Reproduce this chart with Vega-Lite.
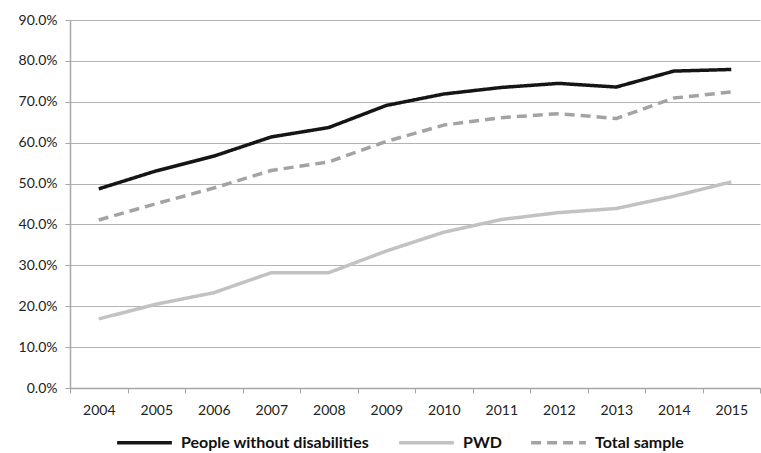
{
  "$schema": "https://vega.github.io/schema/vega-lite/v6.json",
  "width": 690,
  "height": 368,
  "autosize": "none",
  "padding": {"left": 70, "top": 20, "right": 1, "bottom": 65},
  "background": "white",
  "config": {
    "font": "Lato",
    "view": {"stroke": null}
  },
  "data": {
    "values": [
      {"year": "2004", "group": "People without disabilities", "value": 0.487},
      {"year": "2005", "group": "People without disabilities", "value": 0.531},
      {"year": "2006", "group": "People without disabilities", "value": 0.567},
      {"year": "2007", "group": "People without disabilities", "value": 0.614},
      {"year": "2008", "group": "People without disabilities", "value": 0.637},
      {"year": "2009", "group": "People without disabilities", "value": 0.691},
      {"year": "2010", "group": "People without disabilities", "value": 0.719},
      {"year": "2011", "group": "People without disabilities", "value": 0.735},
      {"year": "2012", "group": "People without disabilities", "value": 0.745},
      {"year": "2013", "group": "People without disabilities", "value": 0.736},
      {"year": "2014", "group": "People without disabilities", "value": 0.775},
      {"year": "2015", "group": "People without disabilities", "value": 0.779},
      {"year": "2004", "group": "PWD", "value": 0.169},
      {"year": "2005", "group": "PWD", "value": 0.205},
      {"year": "2006", "group": "PWD", "value": 0.233},
      {"year": "2007", "group": "PWD", "value": 0.282},
      {"year": "2008", "group": "PWD", "value": 0.282},
      {"year": "2009", "group": "PWD", "value": 0.335},
      {"year": "2010", "group": "PWD", "value": 0.381},
      {"year": "2011", "group": "PWD", "value": 0.412},
      {"year": "2012", "group": "PWD", "value": 0.429},
      {"year": "2013", "group": "PWD", "value": 0.439},
      {"year": "2014", "group": "PWD", "value": 0.469},
      {"year": "2015", "group": "PWD", "value": 0.504},
      {"year": "2004", "group": "Total sample", "value": 0.411},
      {"year": "2005", "group": "Total sample", "value": 0.451},
      {"year": "2006", "group": "Total sample", "value": 0.489},
      {"year": "2007", "group": "Total sample", "value": 0.532},
      {"year": "2008", "group": "Total sample", "value": 0.553},
      {"year": "2009", "group": "Total sample", "value": 0.603},
      {"year": "2010", "group": "Total sample", "value": 0.643},
      {"year": "2011", "group": "Total sample", "value": 0.661},
      {"year": "2012", "group": "Total sample", "value": 0.671},
      {"year": "2013", "group": "Total sample", "value": 0.659},
      {"year": "2014", "group": "Total sample", "value": 0.709},
      {"year": "2015", "group": "Total sample", "value": 0.724}
    ]
  },
  "mark": {"type": "line", "strokeWidth": 3.5, "strokeCap": "butt", "strokeJoin": "round"},
  "encoding": {
    "x": {
      "field": "year",
      "type": "ordinal",
      "scale": {"paddingInner": 0, "paddingOuter": 0},
      "axis": {
        "title": null,
        "labelAngle": 0,
        "labelFontSize": 14,
        "labelColor": "#222222",
        "labelPadding": 10,
        "domainColor": "#a6a6a6",
        "domainWidth": 1.5,
        "tickColor": "#a6a6a6",
        "tickBand": "extent",
        "tickSize": 5,
        "grid": false
      }
    },
    "y": {
      "field": "value",
      "type": "quantitative",
      "scale": {"domain": [0, 0.9], "nice": false},
      "axis": {
        "title": null,
        "format": ".1%",
        "values": [0, 0.1, 0.2, 0.3, 0.4, 0.5, 0.6, 0.7, 0.8, 0.9],
        "labelFontSize": 14,
        "labelColor": "#222222",
        "labelPadding": 8,
        "domainColor": "#a6a6a6",
        "domainWidth": 1.5,
        "tickColor": "#a6a6a6",
        "tickSize": 5,
        "gridColor": "#b4b4b4",
        "gridWidth": 1.2
      }
    },
    "color": {
      "field": "group",
      "type": "nominal",
      "scale": {
        "domain": ["People without disabilities", "PWD", "Total sample"],
        "range": ["#151515", "#c2c2c2", "#a3a3a3"]
      },
      "legend": {
        "title": null,
        "orient": "none",
        "direction": "horizontal",
        "legendX": 45,
        "legendY": 393,
        "symbolType": "stroke",
        "symbolSize": 3000,
        "symbolStrokeWidth": 3.5,
        "labelFontSize": 16,
        "labelFontWeight": "bold",
        "labelColor": "#111111",
        "labelLimit": 400,
        "labelOffset": 7,
        "columnPadding": 22
      }
    },
    "strokeDash": {
      "field": "group",
      "type": "nominal",
      "scale": {
        "domain": ["People without disabilities", "PWD", "Total sample"],
        "range": [[1, 0], [1, 0], [10, 6]]
      },
      "legend": {
        "title": null,
        "orient": "none",
        "direction": "horizontal",
        "legendX": 45,
        "legendY": 393,
        "symbolType": "stroke",
        "symbolSize": 3000,
        "symbolStrokeWidth": 3.5,
        "labelFontSize": 16,
        "labelFontWeight": "bold",
        "labelColor": "#111111",
        "labelLimit": 400,
        "labelOffset": 7,
        "columnPadding": 22
      }
    }
  }
}
